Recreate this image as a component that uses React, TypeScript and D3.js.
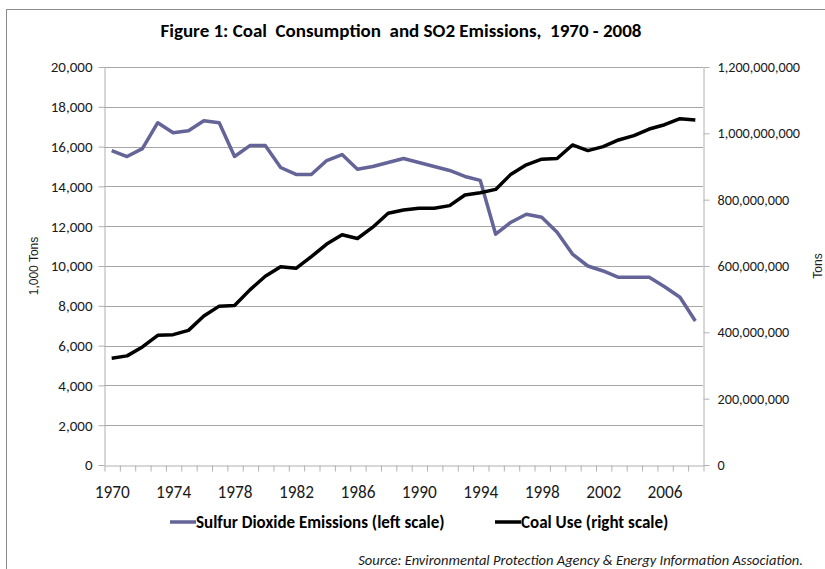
import React, { useEffect, useRef } from 'react';
import * as d3 from 'd3';

const years = d3.range(1970, 2009);
const yearLabels = [1970, 1974, 1978, 1982, 1986, 1990, 1994, 1998, 2002, 2006];
const leftTicks = [0, 2000, 4000, 6000, 8000, 10000, 12000, 14000, 16000, 18000, 20000];
const rightTicks = [0, 200000000, 400000000, 600000000, 800000000, 1000000000, 1200000000];

// thousand tons
const so2Emissions = [
  15800, 15500, 15900, 17200, 16700, 16800, 17300, 17200, 15500, 16050,
  16050, 14950, 14600, 14600, 15300, 15600, 14860, 15000, 15200, 15400,
  15200, 15000, 14800, 14500, 14300, 11600, 12200, 12600, 12450, 11700,
  10600, 10000, 9750, 9430, 9430, 9430, 8960, 8430, 7240,
];

// tons
const coalUse = [
  322e6, 329e6, 356e6, 391e6, 393e6, 406e6, 449e6, 479e6, 481e6, 528e6,
  569e6, 598e6, 593e6, 628e6, 666e6, 694e6, 683e6, 717e6, 759e6, 769e6,
  774e6, 774e6, 782e6, 814e6, 821e6, 831e6, 877e6, 905e6, 922e6, 924e6,
  965e6, 948e6, 960e6, 980e6, 993e6, 1013e6, 1026e6, 1044e6, 1040e6,
];

const so2Color = '#646498';
const coalColor = '#000000';
const font = "Carlito, Calibri, 'Liberation Sans', Arial, sans-serif";
const sideFont = "'Liberation Sans', Arial, sans-serif";

const App: React.FC = () => {
  const chartRef = useRef<SVGSVGElement | null>(null);

  useEffect(() => {
    if (!chartRef.current) return;
    const svg = d3.select(chartRef.current);
    svg.selectAll('*').remove();

    const W = 825;
    const H = 569;
    const plot = { left: 104, right: 703, top: 67, bottom: 465 };

    svg.attr('width', W).attr('height', H).style('font-family', font);

    // outer frame
    svg.append('rect')
      .attr('x', 6.5).attr('y', 9.5)
      .attr('width', W + 10).attr('height', H + 10)
      .attr('fill', '#fff')
      .attr('stroke', '#8c8c8c');

    const x = d3.scaleLinear().domain([1969.5, 2008.5]).range([plot.left, plot.right]);
    const yLeft = d3.scaleLinear().domain([0, 20000]).range([plot.bottom, plot.top]);
    const yRight = d3.scaleLinear().domain([0, 1200000000]).range([plot.bottom, plot.top]);

    // grid lines
    svg.append('g')
      .selectAll('line')
      .data(leftTicks.slice(1))
      .enter()
      .append('line')
      .attr('x1', plot.left).attr('x2', plot.right)
      .attr('y1', d => Math.round(yLeft(d)) + 0.5)
      .attr('y2', d => Math.round(yLeft(d)) + 0.5)
      .attr('stroke', '#a6a6a6');

    const styleAxis = (g: d3.Selection<SVGGElement, unknown, null, undefined>, size: number) => {
      g.select('.domain').attr('stroke', '#b0b0b0');
      g.selectAll('.tick line').attr('stroke', '#b0b0b0');
      g.selectAll('.tick text')
        .attr('fill', '#1a1a1a')
        .style('font-family', font)
        .style('font-size', `${size}px`);
    };

    // left axis
    const leftG = svg.append('g')
      .attr('transform', `translate(${plot.left + 0.5},0)`)
      .call(d3.axisLeft(yLeft).tickValues(leftTicks).tickSize(6).tickSizeOuter(0).tickPadding(6).tickFormat(d3.format(',')));
    styleAxis(leftG, 15);

    // right axis
    const rightG = svg.append('g')
      .attr('transform', `translate(${plot.right + 0.5},0)`)
      .call(d3.axisRight(yRight).tickValues(rightTicks).tickSize(6).tickSizeOuter(0).tickPadding(8).tickFormat(d3.format(',')));
    styleAxis(rightG, 14.2);

    // bottom axis: tick marks between categories
    const bounds = d3.range(1969.5, 2009, 1);
    const bottomG = svg.append('g')
      .attr('transform', `translate(0,${plot.bottom + 0.5})`)
      .call(d3.axisBottom(x).tickValues(bounds).tickSize(6).tickSizeOuter(0).tickFormat(() => ''));
    styleAxis(bottomG, 15);
    bottomG.selectAll('.tick line').attr('transform', 'translate(0.5,0)');

    const labelG = svg.append('g')
      .attr('transform', `translate(0,${plot.bottom})`)
      .call(d3.axisBottom(x).tickValues(yearLabels).tickSize(0).tickPadding(21).tickFormat(d3.format('d')));
    labelG.select('.domain').remove();
    styleAxis(labelG, 17.3);

    // lines
    const so2Line = d3.line<number>()
      .x((_, i) => x(years[i]))
      .y(d => yLeft(d));
    const coalLine = d3.line<number>()
      .x((_, i) => x(years[i]))
      .y(d => yRight(d));

    svg.append('path')
      .datum(so2Emissions)
      .attr('fill', 'none')
      .attr('stroke', so2Color)
      .attr('stroke-width', 3.5)
      .attr('stroke-linejoin', 'round')
      .attr('d', so2Line);

    svg.append('path')
      .datum(coalUse)
      .attr('fill', 'none')
      .attr('stroke', coalColor)
      .attr('stroke-width', 3.5)
      .attr('stroke-linejoin', 'round')
      .attr('d', coalLine);

    // title
    svg.append('text')
      .attr('x', 401)
      .attr('y', 37)
      .attr('text-anchor', 'middle')
      .style('font-size', '19px')
      .style('font-weight', 'bold')
      .attr('fill', '#000')
      .attr('xml:space', 'preserve')
      .text('Figure 1: Coal  Consumption  and SO2 Emissions,  1970 - 2008');

    // axis titles
    svg.append('text')
      .attr('transform', `translate(38,${(plot.top + plot.bottom) / 2}) rotate(-90)`)
      .attr('text-anchor', 'middle')
      .style('font-family', sideFont)
      .style('font-size', '12px')
      .attr('fill', '#1a1a1a')
      .text('1,000 Tons');

    svg.append('text')
      .attr('transform', `translate(822,${(plot.top + plot.bottom) / 2}) rotate(-90)`)
      .attr('text-anchor', 'middle')
      .style('font-family', sideFont)
      .style('font-size', '12px')
      .attr('fill', '#1a1a1a')
      .text('Tons');

    // legend
    const legendItems = [
      { label: 'Sulfur Dioxide Emissions (left scale)', color: so2Color, x: 170 },
      { label: 'Coal Use (right scale)', color: coalColor, x: 495 },
    ];
    const legend = svg.append('g').attr('transform', 'translate(0,522)');
    legendItems.forEach(item => {
      legend.append('line')
        .attr('x1', item.x).attr('x2', item.x + 26)
        .attr('y1', 0).attr('y2', 0)
        .attr('stroke', item.color)
        .attr('stroke-width', 3.5);
      legend.append('text')
        .attr('x', item.x + 26)
        .attr('y', 6)
        .style('font-size', '17px')
        .style('font-weight', 'bold')
        .attr('fill', '#000')
        .text(item.label);
    });

    // source
    svg.append('text')
      .attr('x', 803)
      .attr('y', 565)
      .attr('text-anchor', 'end')
      .style('font-size', '14.5px')
      .style('font-style', 'italic')
      .attr('fill', '#1a1a1a')
      .text('Source: Environmental Protection Agency & Energy Information Association.');
  }, []);

  return (
    <svg ref={chartRef} style={{ position: 'absolute', left: 0, top: 0, display: 'block' }}></svg>
  );
};

export default App;
